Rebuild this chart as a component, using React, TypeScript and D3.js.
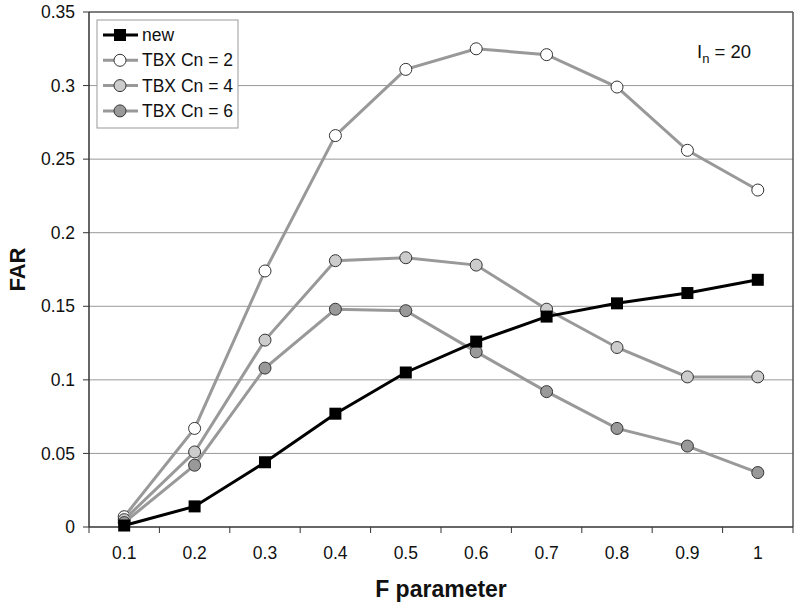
import React from "react";
import * as d3 from "d3";

const categories = ["0.1", "0.2", "0.3", "0.4", "0.5", "0.6", "0.7", "0.8", "0.9", "1"];
const newVals = [0.001, 0.014, 0.044, 0.077, 0.105, 0.126, 0.143, 0.152, 0.159, 0.168];
const cn2Vals = [0.007, 0.067, 0.174, 0.266, 0.311, 0.325, 0.321, 0.299, 0.256, 0.229];
const cn4Vals = [0.005, 0.051, 0.127, 0.181, 0.183, 0.178, 0.148, 0.122, 0.102, 0.102];
const cn6Vals = [0.003, 0.042, 0.108, 0.148, 0.147, 0.119, 0.092, 0.067, 0.055, 0.037];
const yTicks = [0, 0.05, 0.1, 0.15, 0.2, 0.25, 0.3, 0.35];

const series = [
  { name: "new", values: newVals, line: "#000", fill: "#000", square: true },
  { name: "TBX Cn = 2", values: cn2Vals, line: "#999", fill: "#fff", square: false },
  { name: "TBX Cn = 4", values: cn4Vals, line: "#999", fill: "#ccc", square: false },
  { name: "TBX Cn = 6", values: cn6Vals, line: "#999", fill: "#999", square: false },
];

export default function App() {
  const W = 800, H = 609;
  const left = 89, right = 793, top = 12, bottom = 527;
  const x = d3.scaleBand().domain(categories).range([left, right]);
  const y = d3.scaleLinear().domain([0, 0.35]).range([bottom, top]);
  const cx = (c: string) => (x(c) as number) + x.bandwidth() / 2;
  const font = "Arial, 'Liberation Sans', sans-serif";
  const drawOrder = [1, 2, 3, 0];

  return (
    <svg width={W} height={H} style={{ position: "absolute", left: 0, top: 0, background: "#fff" }} fontFamily={font}>
      {yTicks.map((t) => (
        <g key={t}>
          {t > 0 && t < 0.35 && (
            <line x1={left} x2={right} y1={y(t)} y2={y(t)} stroke="#999" strokeWidth={1} />
          )}
          <line x1={left - 6} x2={left} y1={y(t)} y2={y(t)} stroke="#333" strokeWidth={1} />
          <text x={left - 14} y={y(t)} dy="0.35em" textAnchor="end" fontSize={17.5} fill="#111">
            {t === 0 ? "0" : String(t)}
          </text>
        </g>
      ))}
      <line x1={left} x2={right} y1={top} y2={top} stroke="#555" strokeWidth={1.5} />
      <line x1={right} x2={right} y1={top} y2={bottom} stroke="#555" strokeWidth={1.5} />
      <line x1={left} x2={left} y1={top} y2={bottom} stroke="#333" strokeWidth={1.5} />
      <line x1={left} x2={right} y1={bottom} y2={bottom} stroke="#333" strokeWidth={1.5} />
      {categories.map((c, i) => (
        <g key={c}>
          <line x1={left + i * x.bandwidth()} x2={left + i * x.bandwidth()} y1={bottom} y2={bottom + 6} stroke="#333" />
          <text x={cx(c)} y={bottom + 26} dy="0.35em" textAnchor="middle" fontSize={17.5} fill="#111">{c}</text>
        </g>
      ))}
      <line x1={right} x2={right} y1={bottom} y2={bottom + 6} stroke="#333" />
      {drawOrder.map((si) => {
        const s = series[si];
        const line = d3.line<number>().x((_, i) => cx(categories[i])).y((v) => y(v));
        return (
          <g key={s.name}>
            <path d={line(s.values) || ""} fill="none" stroke={s.line} strokeWidth={3} />
            {s.values.map((v, i) =>
              s.square ? (
                <rect key={i} x={cx(categories[i]) - 6} y={y(v) - 6} width={12} height={12} fill="#000" />
              ) : (
                <circle key={i} cx={cx(categories[i])} cy={y(v)} r={6} fill={s.fill} stroke="#333" strokeWidth={1} />
              )
            )}
          </g>
        );
      })}
      <g>
        <rect x={97} y={20} width={141} height={108} fill="#fff" stroke="#999" strokeWidth={1} />
        {series.map((s, i) => {
          const ly = 35 + i * 25.3;
          return (
            <g key={s.name}>
              <line x1={103} x2={138} y1={ly} y2={ly} stroke={s.line} strokeWidth={3} />
              {s.square ? (
                <rect x={114} y={ly - 6} width={12} height={12} fill="#000" />
              ) : (
                <circle cx={120} cy={ly} r={6} fill={s.fill} stroke="#333" strokeWidth={1} />
              )}
              <text x={142} y={ly} dy="0.35em" fontSize={17.5} fill="#111">{s.name}</text>
            </g>
          );
        })}
      </g>
      <text x={697} y={52} dy="0.35em" fontSize={18.5} fill="#111">
        I<tspan fontSize={13} dy={5}>n</tspan><tspan dy={-5}> = 20</tspan>
      </text>
      <text transform={`translate(25,${(top + bottom) / 2}) rotate(-90)`} textAnchor="middle" fontSize={22} fontWeight="bold" fill="#111">FAR</text>
      <text x={(left + right) / 2} y={597} textAnchor="middle" fontSize={23} fontWeight="bold" fill="#111">F parameter</text>
    </svg>
  );
}
